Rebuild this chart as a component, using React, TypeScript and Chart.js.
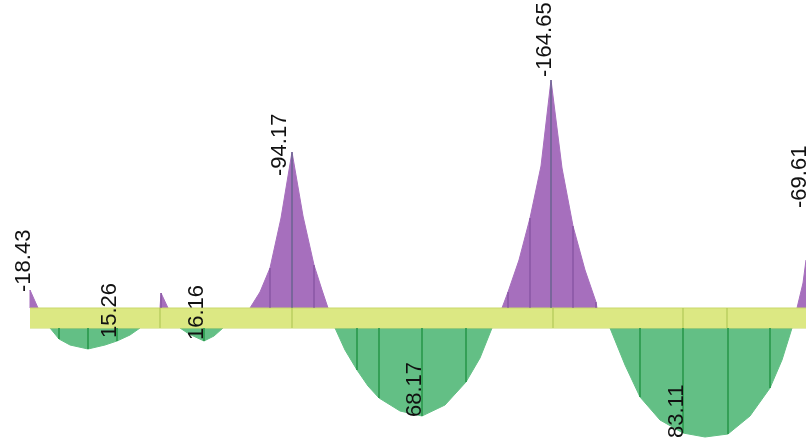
import React, { useEffect, useRef } from "react";
import { Chart, registerables } from "chart.js";

Chart.register(...registerables);

// Beam extent (x, in drawing units) and half thickness (ordinate units)
const beamX = [30, 806];
const beamHalf = 10;
// Node marks along the beam
const nodeX = [160, 292, 553, 683, 727];

// Hogging (negative) moment regions: x positions and diagram ordinates (up = positive)
const neg1X = [30, 30, 38];
const neg1D = [10, 28, 10];
const neg2X = [160, 161, 168];
const neg2D = [10, 25, 10];
const neg3X = [250, 260, 270, 281, 292, 303, 314, 322, 328];
const neg3D = [10, 26, 50, 100, 166, 102, 53, 28, 10];
const neg4X = [502, 508, 519, 530, 541, 551, 562, 573, 585, 596, 597];
const neg4D = [10, 26, 58, 100, 152, 238, 150, 92, 48, 16, 10];
const neg5X = [797, 803, 806, 812];
const neg5D = [10, 35, 58, 106];

// Sagging (positive) moment regions
const pos1X = [50, 59, 70, 88, 105, 117, 130, 140];
const pos1D = [-10, -21, -27, -31, -27, -23, -17, -10];
const pos2X = [180, 189, 204, 214, 223];
const pos2D = [-10, -16, -23, -18, -10];
const pos3X = [335, 345, 357, 368, 379, 400, 422, 445, 466, 480, 492];
const pos3D = [-10, -32, -52, -68, -80, -93, -98, -87, -64, -40, -10];
const pos4X = [610, 625, 640, 660, 683, 705, 728, 750, 770, 782, 792];
const pos4D = [-10, -47, -79, -102, -115, -119, -116, -98, -70, -42, -10];

// Ordinate stations (vertical lines) per region
const neg1St = [30];
const neg2St = [161];
const neg3St = [270, 292, 314];
const neg4St = [508, 530, 551, 573, 596];
const neg3Peak = [292];
const neg4Peak = [551];
const pos1St = [59, 88, 117];
const pos2St = [204];
const pos3St = [357, 379, 422, 466];
const pos4St = [640, 683, 728, 770];

// Value labels
const labelText = ["-18.43", "15.26", "16.16", "-94.17", "68.17", "-164.65", "83.11", "-69.61"];
const labelX = [30, 116, 203, 286, 421, 551, 683, 806];
const labelD = [26, -20, -22, 142, -99, 241, -120, 110];

const PURPLE = "#a66fbd";
const PURPLE_LINE = "#7a4a98";
const PEAK_LINE = "#4c5f7a";
const GREEN = "#63bf85";
const GREEN_LINE = "#2f9b50";
const BEAM = "#dce883";
const BEAM_EDGE = "#c9d86c";
const NODE_LINE = "#a9c24e";

function pts(xs: number[], ds: number[]) {
  return xs.map((x, i) => ({ x, y: ds[i] }));
}

export default function App() {
  const ref = useRef<HTMLCanvasElement | null>(null);

  useEffect(() => {
    if (!ref.current) return;
    const datasets: any[] = [];

    const lineDs = (x: number, y0: number, y1: number, color: string, order: number) => ({
      type: "line",
      data: [
        { x, y: y0 },
        { x, y: y1 },
      ],
      borderColor: color,
      borderWidth: 1,
      pointRadius: 0,
      fill: false,
      order,
    });

    const regionDs = (xs: number[], ds: number[], color: string, base: number) => ({
      type: "line",
      data: pts(xs, ds),
      borderColor: color,
      backgroundColor: color,
      borderWidth: 1,
      pointRadius: 0,
      tension: 0,
      fill: { value: base },
      order: 3,
    });

    const negRegions: [number[], number[], number[]][] = [
      [neg1X, neg1D, neg1St],
      [neg2X, neg2D, neg2St],
      [neg3X, neg3D, neg3St],
      [neg4X, neg4D, neg4St],
      [neg5X, neg5D, []],
    ];
    const posRegions: [number[], number[], number[]][] = [
      [pos1X, pos1D, pos1St],
      [pos2X, pos2D, pos2St],
      [pos3X, pos3D, pos3St],
      [pos4X, pos4D, pos4St],
    ];
    const peaks = [...neg3Peak, ...neg4Peak];

    negRegions.forEach(([xs, ds, st]) => {
      datasets.push(regionDs(xs, ds, PURPLE, beamHalf));
      st.forEach((sx) => {
        const i = xs.indexOf(sx);
        const isPeak = peaks.includes(sx);
        datasets.push(lineDs(sx, beamHalf, ds[i], isPeak ? PEAK_LINE : PURPLE_LINE, 0));
      });
    });
    posRegions.forEach(([xs, ds, st]) => {
      datasets.push(regionDs(xs, ds, GREEN, -beamHalf));
      st.forEach((sx) => {
        const i = xs.indexOf(sx);
        datasets.push(lineDs(sx, -beamHalf, ds[i], GREEN_LINE, 0));
      });
    });

    // Beam
    datasets.push({
      type: "line",
      data: pts(beamX, [beamHalf, beamHalf]),
      borderColor: BEAM_EDGE,
      backgroundColor: BEAM,
      borderWidth: 1,
      pointRadius: 0,
      fill: { value: -beamHalf },
      order: 1,
    });
    datasets.push({
      type: "line",
      data: pts(beamX, [-beamHalf, -beamHalf]),
      borderColor: BEAM_EDGE,
      borderWidth: 1,
      pointRadius: 0,
      fill: false,
      order: 1,
    });
    nodeX.forEach((nx) => datasets.push(lineDs(nx, -beamHalf, beamHalf, NODE_LINE, 0)));

    const labelPlugin = {
      id: "valueLabels",
      afterDatasetsDraw(chart: any) {
        const { ctx, scales } = chart;
        ctx.save();
        ctx.fillStyle = "#111111";
        ctx.font = '22px "Liberation Sans", Arial, sans-serif';
        ctx.textAlign = "left";
        ctx.textBaseline = "alphabetic";
        labelText.forEach((t, i) => {
          const px = scales.x.getPixelForValue(labelX[i]);
          const py = scales.y.getPixelForValue(labelD[i]);
          ctx.save();
          ctx.translate(px, py);
          ctx.rotate(-Math.PI / 2);
          ctx.fillText(t, 0, 0);
          ctx.restore();
        });
        ctx.restore();
      },
    };

    const chart = new Chart(ref.current, {
      type: "line",
      data: { datasets },
      options: {
        animation: false,
        responsive: false,
        maintainAspectRatio: false,
        events: [],
        layout: { padding: 0 },
        plugins: { legend: { display: false }, tooltip: { enabled: false } },
        scales: {
          x: { type: "linear", min: 0, max: 806, display: false },
          y: { type: "linear", min: -121, max: 318, display: false },
        },
      } as any,
      plugins: [labelPlugin],
    });
    return () => chart.destroy();
  }, []);

  return (
    <div style={{ position: "absolute", left: 0, top: 0, width: 806, height: 439, background: "#ffffff" }}>
      <canvas ref={ref} width={806} height={439} style={{ display: "block" }} />
    </div>
  );
}
